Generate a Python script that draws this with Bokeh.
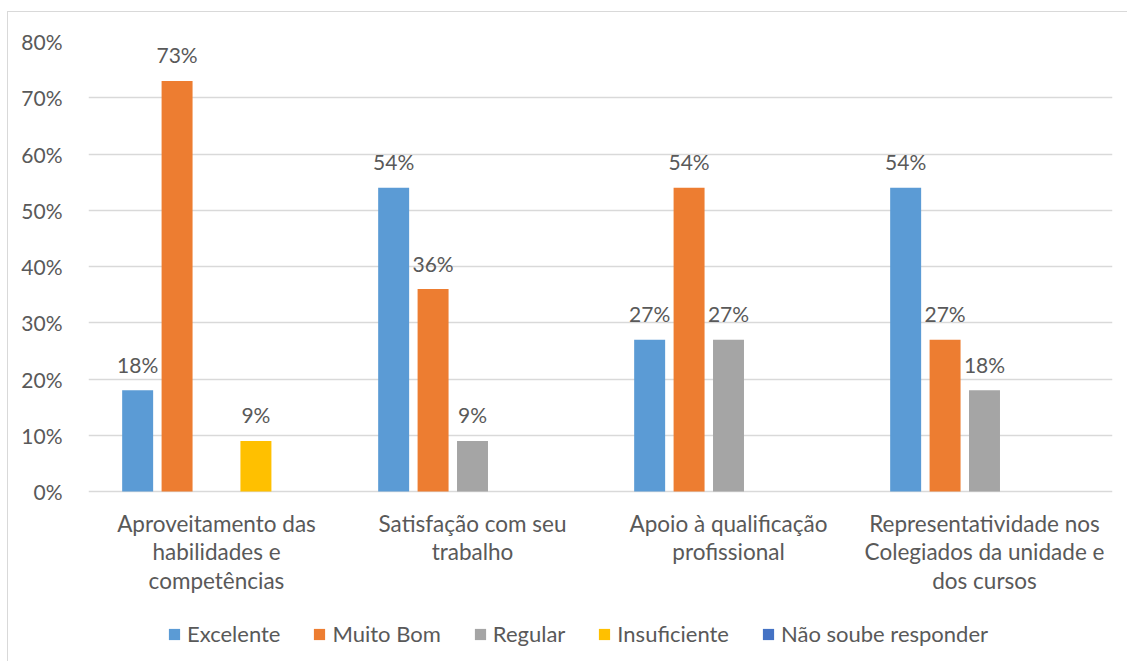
from bokeh.plotting import figure
from bokeh.models import ColumnDataSource, Legend, LegendItem, FactorRange, CustomJSTickFormatter, FixedTicker
from bokeh.transform import dodge
from bokeh.core.properties import value
from bokeh.embed import file_html
from bokeh.resources import INLINE

categories = [
    "Aproveitamento das\nhabilidades e\ncompetências",
    "Satisfação com seu\ntrabalho",
    "Apoio à qualificação\nprofissional",
    "Representatividade nos\nColegiados da unidade e\ndos cursos",
]
series = ["Excelente", "Muito Bom", "Regular", "Insuficiente", "Não soube responder"]
excelente = [18, 54, 27, 54]
muito_bom = [73, 36, 54, 27]
regular = [0, 9, 27, 18]
insuficiente = [9, 0, 0, 0]
nao_soube = [0, 0, 0, 0]
colors = ["#5B9BD5", "#ED7D31", "#A5A5A5", "#FFC000", "#4472C4"]
y_ticks = [0, 10, 20, 30, 40, 50, 60, 70, 80]

values = [excelente, muito_bom, regular, insuficiente, nao_soube]

FONT = "Lato"
TXT = "#595959"
FS = "21px"

W, H = 1120, 650
TOP, LEFT, RIGHT = 29, 80, 16
PX_PER_UNIT = 450 / 80
frame_h = H - TOP
y_bottom = 80 - frame_h / PX_PER_UNIT

p = figure(x_range=FactorRange(*categories), y_range=(y_bottom, 80),
           width=W, height=H, output_backend="svg", toolbar_location=None,
           min_border_left=LEFT, min_border_right=RIGHT, min_border_top=TOP, min_border_bottom=0)
p.x_range.factor_padding = 0
p.x_range.range_padding = 0
p.margin = (11, 0, 0, 7)
p.styles = {"border-top": "1px solid #D9D9D9", "border-left": "1px solid #D9D9D9"}

step = 0.154
bw = 0.121
items = []
for i, (name, vals, col) in enumerate(zip(series, values, colors)):
    off = (i - 2) * step
    src = ColumnDataSource(dict(cat=categories, v=vals))
    r = p.vbar(x=dodge("cat", off, range=p.x_range), top="v", width=bw, source=src,
               fill_color=col, line_color=None)
    items.append(LegendItem(label=name, renderers=[r]))
    lab_cats = [c for c, v in zip(categories, vals) if v > 0]
    lab_vals = [v for v in vals if v > 0]
    lsrc = ColumnDataSource(dict(cat=lab_cats, v=lab_vals, t=[f"{v}%" for v in lab_vals]))
    p.text(x=dodge("cat", off, range=p.x_range), y="v", text="t", source=lsrc,
           text_align="center", text_baseline="middle", y_offset=-26,
           text_font=value(FONT), text_font_size=FS, text_color=TXT)

# category labels below the baseline
csrc = ColumnDataSource(dict(cat=categories, y=[0] * len(categories)))
p.text(x="cat", y="y", text="cat", source=csrc, text_align="center", text_baseline="top",
       y_offset=18, text_line_height=1.07, text_font=value(FONT), text_font_size="22.5px",
       text_color=TXT)

p.yaxis.ticker = FixedTicker(ticks=y_ticks)
p.yaxis.formatter = CustomJSTickFormatter(code="return tick + '%';")
p.yaxis.axis_line_color = None
p.yaxis.major_tick_line_color = None
p.yaxis.minor_tick_line_color = None
p.yaxis.major_label_standoff = 20
p.yaxis.major_label_text_font = FONT
p.yaxis.major_label_text_font_size = FS
p.yaxis.major_label_text_color = TXT

p.xaxis.visible = False
p.xgrid.grid_line_color = None
p.ygrid.ticker = FixedTicker(ticks=y_ticks)
p.ygrid.grid_line_color = "#D9D9D9"
p.ygrid.grid_line_width = 1.5
p.outline_line_color = None

legend = Legend(items=items, orientation="horizontal", location=(79, 15),
                label_text_font=FONT, label_text_font_size="22px", label_text_color=TXT,
                glyph_width=14, glyph_height=14, label_standoff=6, spacing=32,
                border_line_color=None, background_fill_alpha=0, margin=0, padding=0)
p.add_layout(legend, "center")

open("out.html", "w").write(file_html(p, INLINE))
